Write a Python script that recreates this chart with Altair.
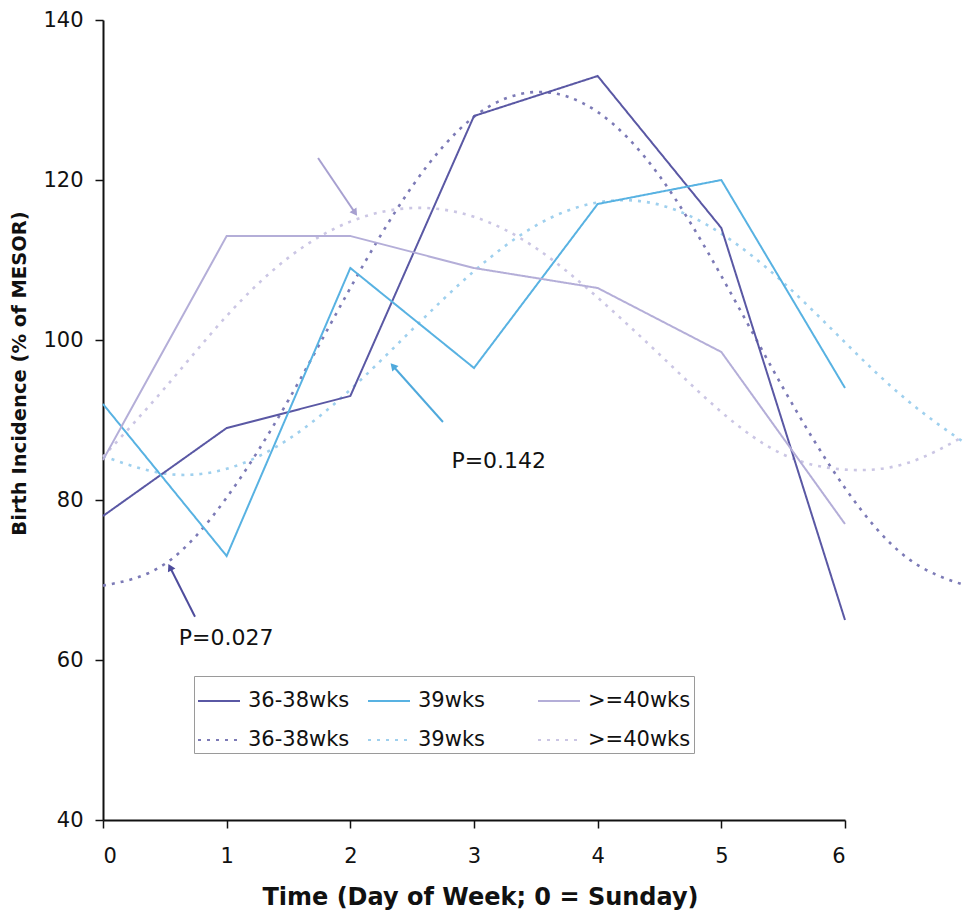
import altair as alt
import pandas as pd

# ---- data ----
days = [0, 1, 2, 3, 4, 5, 6]
obs_36_38 = [78, 89, 93, 128, 133, 114, 65]
obs_39 = [92, 73, 109, 96.5, 117, 120, 94]
obs_40 = [85, 113, 113, 109, 106.5, 98.5, 77]

fit_t = [0, 0.5, 1, 1.5, 2, 2.5, 3, 3.5, 4, 4.5, 5, 5.5, 6, 6.5, 7]
fit_36_38 = [69.3, 72, 80.3, 92.5, 106.5, 119.2, 127.9, 131, 128.5, 120.5, 108, 94, 81.5, 72.8, 69.2]
fit_39 = [85.5, 83.3, 83.9, 87.6, 93.8, 101.3, 108.6, 114.3, 117.2, 116.9, 113.3, 107.2, 99.7, 92.5, 86.8]
fit_40 = [85.4, 94, 103, 110.3, 114.8, 116.5, 115.4, 111.5, 105.3, 98.2, 91, 85.7, 83.8, 84.6, 88.3]

group_labels = ["36-38wks", "39wks", ">=40wks"]
solid_keys = ["a" + g for g in group_labels]
dotted_keys = ["b" + g for g in group_labels]
# legend fills column by column: solid on top row, dotted on bottom row
keys = [solid_keys[0], dotted_keys[0], solid_keys[1], dotted_keys[1], solid_keys[2], dotted_keys[2]]
colors = ["#5a58a4", "#7c7ab6", "#58b2e2", "#9fd0ee", "#b4aed8", "#cbc6e4"]
dashes = [[1, 0], [3, 6], [1, 0], [3, 6], [1, 0], [3, 6]]

# annotations: arrow tail (x, y) -> tip (x2, y2), in data units
arrow_x = [0.744, 2.749, 1.739]
arrow_y = [65.4, 89.75, 122.75]
arrow_x2 = [0.542, 2.345, 2.038]
arrow_y2 = [71.6, 96.75, 115.9]
arrow_angle = [333, 318, 146]
arrow_color = ["#4e4c9c", "#4fa9dc", "#a7a0d0"]

note_x = [0.995, 3.2]
note_y = [62.75, 84.9]
note_text = ["P=0.027", "P=0.142"]

# ---- build tables ----
rows = []
for k, vals in zip(solid_keys, [obs_36_38, obs_39, obs_40]):
    for d, v in zip(days, vals):
        rows.append({"t": d, "v": v, "key": k})
solid_df = pd.DataFrame(rows)

rows = []
for k, vals in zip(dotted_keys, [fit_36_38, fit_39, fit_40]):
    for d, v in zip(fit_t, vals):
        rows.append({"t": d, "v": v, "key": k})
fit_df = pd.DataFrame(rows)

arrows_df = pd.DataFrame({"x": arrow_x, "y": arrow_y, "x2": arrow_x2, "y2": arrow_y2,
                          "angle": arrow_angle, "c": arrow_color})
notes_df = pd.DataFrame({"x": note_x, "y": note_y, "text": note_text})

FONT = "DejaVu Sans"

xscale = alt.Scale(domain=[0, 6], nice=False, zero=False)
yscale = alt.Scale(domain=[40, 140], nice=False, zero=False)

xaxis = alt.Axis(values=days, format="d", title="Time (Day of Week; 0 = Sunday)",
                 titleX=377, titleY=77,
                 titleAlign="center", titleBaseline="middle", titleFont=FONT, titleFontSize=24,
                 titleFontWeight="bold", labelFont=FONT, labelFontSize=21, labelPadding=17,
                 tickSize=8, labelColor="#111", titleColor="#111")
yaxis = alt.Axis(values=[40, 60, 80, 100, 120, 140], title="Birth Incidence (% of MESOR)",
                 titleX=-84, titleY=353, titleAngle=270, titleAlign="center",
                 titleBaseline="middle", titleFont=FONT, titleFontSize=19.5,
                 titleFontWeight="bold", labelFont=FONT, labelFontSize=21, labelPadding=12,
                 tickSize=8, labelColor="#111", titleColor="#111")

legend = alt.Legend(orient="none", legendX=91, legendY=656, columns=3, title=None,
                    symbolType="stroke", symbolSize=1764, symbolStrokeWidth=2,
                    labelFont=FONT, labelFontSize=21, labelColor="#111",
                    strokeColor="#9a9a9a", fillColor="white", padding=3, rowPadding=7,
                    columnPadding=13, labelOffset=7, gridAlign="all",
                    labelExpr="slice(datum.label, 1)")

color_enc = alt.Color("key:N", scale=alt.Scale(domain=keys, range=colors), legend=legend)
dash_enc = alt.StrokeDash("key:N", scale=alt.Scale(domain=keys, range=dashes), legend=legend)

solid = alt.Chart(solid_df).mark_line(strokeWidth=2).encode(
    x=alt.X("t:Q", scale=xscale, axis=xaxis),
    y=alt.Y("v:Q", scale=yscale, axis=yaxis),
    color=color_enc, strokeDash=dash_enc, detail="key:N",
)

fits = alt.Chart(fit_df).mark_line(strokeWidth=2.6, interpolate="natural", clip=False).encode(
    x=alt.X("t:Q", scale=xscale, axis=xaxis),
    y=alt.Y("v:Q", scale=yscale, axis=yaxis),
    color=color_enc, strokeDash=dash_enc, detail="key:N",
)

arrow_lines = alt.Chart(arrows_df).mark_rule(strokeWidth=2).encode(
    x="x:Q", y="y:Q", x2="x2:Q", y2="y2:Q",
    color=alt.Color("c:N", scale=None),
)
arrow_heads = alt.Chart(arrows_df).mark_point(shape="triangle-up", filled=True, size=70,
                                               opacity=1).encode(
    x="x2:Q", y="y2:Q",
    angle=alt.Angle("angle:Q", scale=None),
    color=alt.Color("c:N", scale=None),
)
notes = alt.Chart(notes_df).mark_text(font=FONT, fontSize=22, color="#111").encode(
    x="x:Q", y="y:Q", text="text:N",
)

chart = alt.layer(fits, solid, arrow_lines, arrow_heads, notes).properties(
    width=742, height=800,
    autosize=alt.AutoSizeParams(type="none"),
    padding={"left": 95, "top": 12, "right": 118, "bottom": 91},
).configure_view(stroke=None).configure_axis(
    grid=False, domainColor="#111", domainWidth=2, tickColor="#111", tickWidth=1.5,
)

chart.save("out.html", embed_options={"renderer": "svg", "actions": False})
